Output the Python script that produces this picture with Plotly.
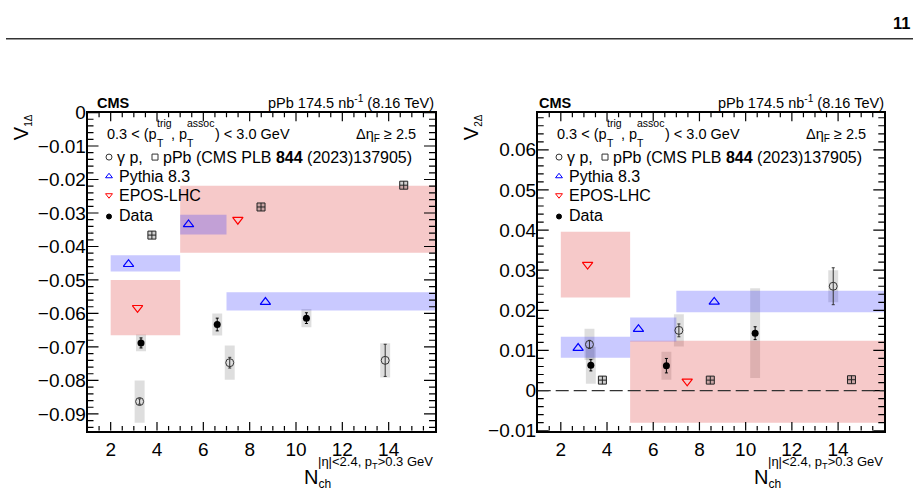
import plotly.graph_objects as go

W, H = 920, 503
FONT = "Liberation Sans, Arial, Helvetica, sans-serif"

# ---------------- data : left panel  (V1Δ) ----------------
v1_pythia_x0 = [2, 5, 7]
v1_pythia_x1 = [5, 7, 16]
v1_pythia_lo = [-0.0475, -0.0364, -0.0591]
v1_pythia_hi = [-0.0426, -0.0305, -0.0537]
v1_pythia_xm = [2.77, 5.36, 8.68]
v1_pythia_ym = [-0.0453, -0.0334, -0.0566]

v1_epos_x0 = [2, 5]
v1_epos_x1 = [5, 16]
v1_epos_lo = [-0.0665, -0.0419]
v1_epos_hi = [-0.0500, -0.0219]
v1_epos_xm = [3.16, 7.49]
v1_epos_ym = [-0.0583, -0.0320]

v1_data_x = [3.31, 6.60, 10.45]
v1_data_y = [-0.0688, -0.0633, -0.0614]
v1_data_stat = [0.0015, 0.0019, 0.0016]
v1_data_sys = [0.0025, 0.0033, 0.0027]

v1_gp_x = [3.25, 7.14, 13.85]
v1_gp_y = [-0.0863, -0.0747, -0.0740]
v1_gp_stat = [0.0008, 0.0016, 0.0048]
v1_gp_sys = [0.0063, 0.0051, 0.0051]

v1_ppb_x = [3.78, 8.49, 14.65]
v1_ppb_y = [-0.0366, -0.0282, -0.0217]

# ---------------- data : right panel (V2Δ) ----------------
v2_pythia_x0 = [2, 5, 7]
v2_pythia_x1 = [5, 7, 16]
v2_pythia_lo = [0.0082, 0.0122, 0.0195]
v2_pythia_hi = [0.0134, 0.0182, 0.0249]
v2_pythia_xm = [2.75, 5.36, 8.64]
v2_pythia_ym = [0.0106, 0.0153, 0.0221]

v2_epos_x0 = [2, 5]
v2_epos_x1 = [5, 16]
v2_epos_lo = [0.0232, -0.0080]
v2_epos_hi = [0.0396, 0.0124]
v2_epos_xm = [3.16, 7.47]
v2_epos_ym = [0.0314, 0.0023]

v2_data_x = [3.30, 6.57, 10.41]
v2_data_y = [0.0063, 0.0062, 0.0143]
v2_data_stat = [0.0014, 0.0018, 0.0016]
v2_data_sys = [0.0046, 0.0035, 0.0112]

v2_gp_x = [3.24, 7.11, 13.79]
v2_gp_y = [0.0115, 0.0150, 0.0260]
v2_gp_stat = [0.0010, 0.0016, 0.0046]
v2_gp_sys = [0.0039, 0.0040, 0.0040]

v2_ppb_x = [3.80, 8.47, 14.58]
v2_ppb_y = [0.0026, 0.0026, 0.0027]

# ---------------- axis ranges / ticks ----------------
x_range = [1, 16]
x_tickvals = [2, 4, 6, 8, 10, 12, 14]
x_minor = 0.5
v1_range = [-0.095, 0]
v1_tickvals = [0, -0.01, -0.02, -0.03, -0.04, -0.05, -0.06, -0.07, -0.08, -0.09]
v2_range = [-0.01, 0.0693]
v2_tickvals = [-0.01, 0, 0.01, 0.02, 0.03, 0.04, 0.05, 0.06]
y_minor = 0.002

# ---------------- geometry (pixels) ----------------
LEFT_PX = (87.5, 435.0)
RIGHT_PX = (537.7, 884.3)
TOP_PX, BOT_PX = 107.0, 439.0
XMAJ_LEN, XMIN_LEN = 9, 5
YMAJ_LEN, YMIN_LEN = 11, 6

# ---------------- styles ----------------
PINK = "rgba(220,40,40,0.25)"
BLUE = "rgba(40,40,255,0.25)"
SYSGRAY = "rgba(0,0,0,0.13)"
SYS_W = 0.43

fig = go.Figure()


def band_trace(x0, x1, lo, hi, color, xa, ya):
    return go.Bar(x=[(a + b) / 2 for a, b in zip(x0, x1)],
                  width=[b - a for a, b in zip(x0, x1)],
                  base=lo, y=[h - l for l, h in zip(lo, hi)],
                  marker=dict(color=color, line=dict(width=0)),
                  xaxis=xa, yaxis=ya, showlegend=False, hoverinfo="skip")


def sys_trace(x, y, s, xa, ya):
    return go.Bar(x=x, width=SYS_W, base=[v - e for v, e in zip(y, s)],
                  y=[2 * e for e in s],
                  marker=dict(color=SYSGRAY, line=dict(width=0)),
                  xaxis=xa, yaxis=ya, showlegend=False, hoverinfo="skip")


def add_panel(p, xa, ya):
    fig.add_trace(sys_trace(p["gp_x"], p["gp_y"], p["gp_sys"], xa, ya))
    fig.add_trace(sys_trace(p["data_x"], p["data_y"], p["data_sys"], xa, ya))
    fig.add_trace(go.Scatter(x=p["ppb_x"], y=p["ppb_y"], mode="markers",
                             marker=dict(symbol="square-cross", size=8, color="rgba(0,0,0,0.18)",
                                         line=dict(color="#222", width=1)),
                             xaxis=xa, yaxis=ya, showlegend=False))
    fig.add_trace(band_trace(p["epos_x0"], p["epos_x1"], p["epos_lo"], p["epos_hi"], PINK, xa, ya))
    fig.add_trace(band_trace(p["pythia_x0"], p["pythia_x1"], p["pythia_lo"], p["pythia_hi"], BLUE, xa, ya))
    fig.add_trace(go.Scatter(x=p["pythia_xm"], y=p["pythia_ym"], mode="markers",
                             marker=dict(symbol="triangle-up-open", size=9, color="blue",
                                         line=dict(width=1.2)),
                             xaxis=xa, yaxis=ya, showlegend=False))
    fig.add_trace(go.Scatter(x=p["epos_xm"], y=p["epos_ym"], mode="markers",
                             marker=dict(symbol="triangle-down-open", size=9, color="red",
                                         line=dict(width=1.2)),
                             xaxis=xa, yaxis=ya, showlegend=False))
    fig.add_trace(go.Scatter(x=p["gp_x"], y=p["gp_y"], mode="markers",
                             marker=dict(symbol="circle-open", size=8, color="#333",
                                         line=dict(width=1)),
                             error_y=dict(type="data", array=p["gp_stat"], color="#333",
                                          thickness=1, width=1.5),
                             xaxis=xa, yaxis=ya, showlegend=False))
    fig.add_trace(go.Scatter(x=p["data_x"], y=p["data_y"], mode="markers",
                             marker=dict(symbol="circle", size=7, color="black"),
                             error_y=dict(type="data", array=p["data_stat"], color="black",
                                          thickness=1, width=1.5),
                             xaxis=xa, yaxis=ya, showlegend=False))


left = dict(pythia_x0=v1_pythia_x0, pythia_x1=v1_pythia_x1, pythia_lo=v1_pythia_lo,
            pythia_hi=v1_pythia_hi, pythia_xm=v1_pythia_xm, pythia_ym=v1_pythia_ym,
            epos_x0=v1_epos_x0, epos_x1=v1_epos_x1, epos_lo=v1_epos_lo, epos_hi=v1_epos_hi,
            epos_xm=v1_epos_xm, epos_ym=v1_epos_ym,
            data_x=v1_data_x, data_y=v1_data_y, data_stat=v1_data_stat, data_sys=v1_data_sys,
            gp_x=v1_gp_x, gp_y=v1_gp_y, gp_stat=v1_gp_stat, gp_sys=v1_gp_sys,
            ppb_x=v1_ppb_x, ppb_y=v1_ppb_y)
right = dict(pythia_x0=v2_pythia_x0, pythia_x1=v2_pythia_x1, pythia_lo=v2_pythia_lo,
             pythia_hi=v2_pythia_hi, pythia_xm=v2_pythia_xm, pythia_ym=v2_pythia_ym,
             epos_x0=v2_epos_x0, epos_x1=v2_epos_x1, epos_lo=v2_epos_lo, epos_hi=v2_epos_hi,
             epos_xm=v2_epos_xm, epos_ym=v2_epos_ym,
             data_x=v2_data_x, data_y=v2_data_y, data_stat=v2_data_stat, data_sys=v2_data_sys,
             gp_x=v2_gp_x, gp_y=v2_gp_y, gp_stat=v2_gp_stat, gp_sys=v2_gp_sys,
             ppb_x=v2_ppb_x, ppb_y=v2_ppb_y)

add_panel(left, "x", "y")
add_panel(right, "x2", "y2")

# ---------------- legend keys (pixel layout, mapped into each panel) ----------------
legend_keys = [  # symbol, fill, line colour, size, x px, y px (left panel)
    ("circle-open", "#333", "#333", 6, 109, 153.5),
    ("square-open", "#333", "#333", 6, 155, 153.5),
    ("triangle-up-open", "blue", "blue", 6, 109, 173.5),
    ("triangle-down-open", "red", "red", 6, 109, 193.3),
    ("circle", "black", "black", 5, 109, 215.5),
]


def px_to_data(px, py, xpx, yr):
    xd = x_range[0] + (px - xpx[0]) / (xpx[1] - xpx[0]) * (x_range[1] - x_range[0])
    yd = yr[1] - (py - TOP_PX) / (BOT_PX - TOP_PX) * (yr[1] - yr[0])
    return xd, yd


for dx, xpx, yr, xa, ya in ((0, LEFT_PX, v1_range, "x", "y"),
                            (450, RIGHT_PX, v2_range, "x2", "y2")):
    for sym, col, lcol, sz, kx, ky in legend_keys:
        xd, yd = px_to_data(kx + dx, ky, xpx, yr)
        fig.add_trace(go.Scatter(x=[xd], y=[yd], mode="markers",
                                 marker=dict(symbol=sym, size=sz, color=col,
                                             line=dict(color=lcol, width=1)),
                                 xaxis=xa, yaxis=ya, showlegend=False, hoverinfo="skip"))


# ---------------- tick marks drawn as line traces (inside, all four sides) ----------------
def frange(lo, hi, step):
    out, k = [], 0
    start = step * int(lo / step)
    while True:
        v = round(start + k * step, 6)
        if v > hi + 1e-9:
            break
        if v >= lo - 1e-9:
            out.append(v)
        k += 1
    return out


def tick_trace(xa, ya, xpx, yr, ymaj):
    xs, ys = [], []
    x_per_px = (x_range[1] - x_range[0]) / (xpx[1] - xpx[0])
    y_per_px = (yr[1] - yr[0]) / (BOT_PX - TOP_PX)
    xmin_vals = [v for v in frange(x_range[0], x_range[1], x_minor)
                 if all(abs(v - m) > 1e-6 for m in x_tickvals) and x_range[0] < v < x_range[1]]
    for vals, ln in ((x_tickvals, XMAJ_LEN), (xmin_vals, XMIN_LEN)):
        d = ln * y_per_px
        for v in vals:
            xs += [v, v, None, v, v, None]
            ys += [yr[0], yr[0] + d, None, yr[1], yr[1] - d, None]
    ymin_vals = [v for v in frange(yr[0], yr[1], y_minor)
                 if all(abs(v - m) > 1e-7 for m in ymaj) and yr[0] < v < yr[1]]
    for vals, ln in ((ymaj, YMAJ_LEN), (ymin_vals, YMIN_LEN)):
        d = ln * x_per_px
        for v in vals:
            xs += [x_range[0], x_range[0] + d, None, x_range[1], x_range[1] - d, None]
            ys += [v, v, None, v, v, None]
    return go.Scatter(x=xs, y=ys, mode="lines", line=dict(color="black", width=1.2),
                      connectgaps=False, xaxis=xa, yaxis=ya, showlegend=False,
                      hoverinfo="skip", cliponaxis=False)


fig.add_trace(tick_trace("x", "y", LEFT_PX, v1_range, v1_tickvals))
fig.add_trace(tick_trace("x2", "y2", RIGHT_PX, v2_range, v2_tickvals))


# ---------------- annotations ----------------
def A(x, y, text, size, xa="left", ya="middle", angle=0, color="black"):
    return dict(x=x / W, y=1 - y / H, xref="paper", yref="paper", text=text,
                showarrow=False, xanchor=xa, yanchor=ya, textangle=angle, borderpad=0,
                font=dict(family=FONT, size=size, color=color))


ann = []
ann.append(A(911, 23.5, "<b>11</b>", 16.5, xa="right", ya="bottom"))

for dx, ylab in ((0, "V<sub><span style='font-size:10px'>1Δ</span></sub>"),
                 (450, "V<sub><span style='font-size:10px'>2Δ</span></sub>")):
    ann.append(A(435 + dx, 106.3, "pPb 174.5 nb<sup>-1</sup> (8.16 TeV)", 14.5, xa="right", ya="bottom"))
    s1, s2 = 14.5, 10.5
    x = 106 + dx
    ann.append(A(x, 129, "0.3 &lt; (p", s1))
    x += 3.419 * s1
    ann.append(A(x, 138.3, "T", s2))
    ann.append(A(x, 117.9, "trig", s2))
    x += 1.389 * s2
    ann.append(A(x, 129, ", p", s1))
    x += 1.112 * s1
    ann.append(A(x, 138.3, "T", s2))
    ann.append(A(x, 117.9, "assoc", s2))
    x += 2.612 * s2
    ann.append(A(x, 129, ") &lt; 3.0 GeV", s1))
    ann.append(A(416.5 + dx, 130.5, "Δη<sub>F</sub> ≥ 2.5", s1, xa="right"))
    ann.append(A(115.5 + dx, 153.5, "γ p,", 16))
    ann.append(A(162 + dx, 153.5, "pPb (CMS PLB <b>844</b> (2023)137905)", 16))
    ann.append(A(118 + dx, 173.3, "Pythia 8.3", 16))
    ann.append(A(118 + dx, 193.7, "EPOS-LHC", 16))
    ann.append(A(118 + dx, 214.3, "Data", 16))
    ann.append(A(9.2 + dx, 107.5, ylab, 20, xa="left", ya="top", angle=-90))
    ann.append(A(302.5 + dx, 475, "N<sub><span style='font-size:12px'>ch</span></sub>", 20,
                 xa="left", ya="top"))
    ann.append(A(433.5 + dx, 462.5, "|η|&lt;2.4, p<sub>T</sub>&gt;0.3 GeV", 13, xa="right", ya="top"))

ann.append(A(96, 106.2, "<b>CMS</b>", 14.5, ya="bottom"))
ann.append(A(537.5, 106.2, "<b>CMS</b>", 14.5, ya="bottom"))

shapes = [
    dict(type="line", xref="paper", yref="paper", x0=6 / W, x1=913 / W,
         y0=1 - 30 / H, y1=1 - 30 / H, line=dict(color="#333", width=1.3)),
    dict(type="line", xref="x2", yref="y2", x0=1, x1=16, y0=0, y1=0,
         line=dict(color="#333", width=1.3, dash="13px,5px")),
]

# ---------------- axes ----------------
TICKFONT = dict(family=FONT, size=19, color="black")


def xaxis(domain, anchor):
    return dict(domain=domain, anchor=anchor, range=x_range, tickmode="array",
                tickvals=x_tickvals, ticks="", showticklabels=True,
                showline=True, linecolor="black", linewidth=1.5, mirror=True,
                showgrid=False, zeroline=False, tickfont=TICKFONT, ticklabelstandoff=1)


def yaxis(domain, anchor, rng, tv):
    return dict(domain=domain, anchor=anchor, range=rng, tickmode="array", tickvals=tv,
                ticks="", showticklabels=True,
                showline=True, linecolor="black", linewidth=1.5, mirror=True,
                showgrid=False, zeroline=False, tickfont=TICKFONT, ticklabelstandoff=-4)


ydom = [1 - BOT_PX / H, 1 - TOP_PX / H]
fig.update_layout(
    width=W, height=H, margin=dict(l=0, r=0, t=0, b=0),
    paper_bgcolor="white", plot_bgcolor="white",
    barmode="overlay", showlegend=False,
    xaxis=xaxis([LEFT_PX[0] / W, LEFT_PX[1] / W], "y"),
    yaxis=yaxis(ydom, "x", v1_range, v1_tickvals),
    xaxis2=xaxis([RIGHT_PX[0] / W, RIGHT_PX[1] / W], "y2"),
    yaxis2=yaxis(ydom, "x2", v2_range, v2_tickvals),
    annotations=ann,
    shapes=shapes,
)

fig.write_html("out.html")
